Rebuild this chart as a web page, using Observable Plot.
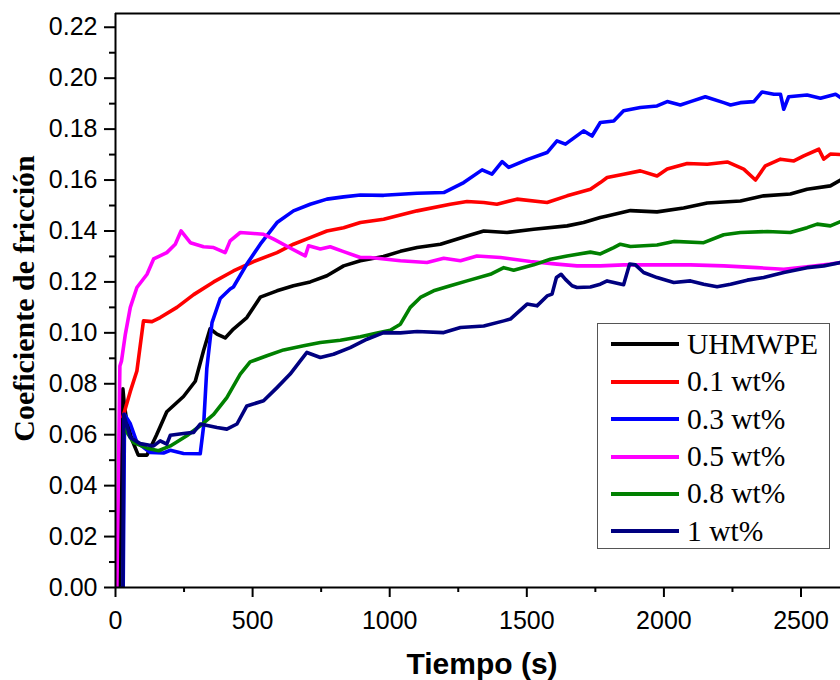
<!DOCTYPE html>
<html>
<head>
<meta charset="utf-8">
<script src="https://cdn.jsdelivr.net/npm/d3@7"></script>
<script src="https://cdn.jsdelivr.net/npm/@observablehq/plot@0.6"></script>
<style>
  html, body { margin: 0; padding: 0; background: #fff; }
  #wrap { position: relative; width: 840px; height: 680px; overflow: hidden; }
  #legend { position: absolute; left: 597px; top: 323px; width: 231px; height: 224px;
            border: 1.5px solid #555; background: #fff; box-sizing: content-box; }
  .row { position: absolute; left: 0; height: 37px; line-height: 37px; width: 100%;
         font-family: "Liberation Serif", "Times New Roman", serif; font-size: 29.5px; color: #000; white-space: nowrap; }
  .swatch { position: absolute; left: 13px; width: 68px; height: 4px; top: 16.5px; }
  .lbl { position: absolute; left: 89px; top: 0; }
</style>
</head>
<body>
<div id="wrap"></div>
<script>
// ---- Data ----
const seriesNames = ["UHMWPE", "0.1 wt%", "0.3 wt%", "0.5 wt%", "0.8 wt%", "1 wt%"];
const seriesColors = ["#000000", "#ff0000", "#0000ff", "#ff00ff", "#008000", "#000080"];

const xTicks = [0, 500, 1000, 1500, 2000, 2500];
const xMinorTicks = [250, 750, 1250, 1750, 2250];
const yTicks = [0, 0.02, 0.04, 0.06, 0.08, 0.10, 0.12, 0.14, 0.16, 0.18, 0.20, 0.22];
const yMinorTicks = [0.01, 0.03, 0.05, 0.07, 0.09, 0.11, 0.13, 0.15, 0.17, 0.19, 0.21];
const xDomain = [0, 2644];
const yDomain = [0, 0.2254];

const uhmwpe = [[8,0],[15,0],[27,0.078],[32,0.072],[40,0.066],[60,0.058],[83,0.052],[115,0.052],[150,0.060],[187,0.069],[248,0.075],[291,0.081],[321,0.093],[345,0.1016],[370,0.0995],[400,0.098],[430,0.1015],[479,0.106],[528,0.114],[589,0.1165],[649,0.1185],[710,0.120],[771,0.1224],[832,0.1263],[893,0.1283],[977,0.130],[1039,0.132],[1100,0.1335],[1185,0.1348],[1282,0.138],[1343,0.140],[1428,0.1394],[1525,0.1407],[1647,0.142],[1707,0.1433],[1768,0.1453],[1793,0.1459],[1878,0.148],[1975,0.1475],[2072,0.149],[2158,0.151],[2279,0.1518],[2364,0.1538],[2461,0.1545],[2522,0.1564],[2607,0.1577],[2644,0.160]];

const wt01 = [[27,0.067],[54,0.077],[78,0.085],[102,0.1047],[133,0.1044],[163,0.106],[224,0.110],[285,0.115],[358,0.120],[430,0.1243],[504,0.128],[589,0.1315],[649,0.1348],[710,0.1374],[771,0.140],[832,0.1413],[893,0.1433],[978,0.1446],[1100,0.1479],[1221,0.1505],[1282,0.1516],[1343,0.1512],[1391,0.1505],[1464,0.1525],[1574,0.1512],[1647,0.1538],[1732,0.1564],[1768,0.159],[1793,0.161],[1853,0.1623],[1914,0.1636],[1975,0.1616],[2012,0.1643],[2085,0.1665],[2158,0.1662],[2231,0.1671],[2291,0.1643],[2334,0.160],[2370,0.1656],[2425,0.1682],[2474,0.1675],[2510,0.1695],[2565,0.1721],[2583,0.1682],[2607,0.1702],[2644,0.170]];

const wt03 = [[28,0],[33,0.068],[54,0.0643],[78,0.057],[127,0.053],[175,0.0528],[200,0.0539],[248,0.0526],[309,0.0525],[321,0.063],[333,0.086],[352,0.104],[382,0.1135],[418,0.1172],[430,0.118],[479,0.127],[528,0.1348],[589,0.1433],[649,0.1479],[710,0.1505],[771,0.1525],[832,0.1534],[893,0.1541],[978,0.154],[1100,0.1548],[1197,0.1551],[1270,0.159],[1337,0.164],[1373,0.1623],[1410,0.1672],[1434,0.165],[1501,0.168],[1574,0.1708],[1610,0.1754],[1641,0.1741],[1707,0.1793],[1738,0.1773],[1768,0.1826],[1817,0.1832],[1853,0.1872],[1914,0.1885],[1975,0.1891],[2012,0.1908],[2060,0.1895],[2097,0.1908],[2151,0.1927],[2218,0.1904],[2243,0.1895],[2279,0.1904],[2328,0.1908],[2358,0.1946],[2401,0.1937],[2425,0.1937],[2437,0.1878],[2455,0.1927],[2522,0.1934],[2571,0.1921],[2626,0.1937],[2644,0.1924]];

const wt05 = [[5,0],[16,0.087],[22,0.089],[36,0.0995],[54,0.110],[78,0.1178],[115,0.123],[139,0.129],[187,0.1315],[218,0.1348],[239,0.140],[273,0.1354],[321,0.1338],[358,0.1335],[400,0.1315],[418,0.1361],[455,0.1394],[504,0.139],[540,0.1387],[577,0.1368],[637,0.1333],[692,0.1302],[704,0.1342],[747,0.1329],[783,0.1338],[832,0.1319],[893,0.1296],[929,0.1296],[1039,0.1283],[1136,0.1276],[1197,0.1293],[1258,0.1283],[1318,0.1302],[1404,0.1296],[1513,0.128],[1610,0.127],[1683,0.1263],[1768,0.1263],[1853,0.1267],[1975,0.1267],[2097,0.1267],[2218,0.1263],[2340,0.1256],[2437,0.125],[2522,0.1259],[2607,0.127],[2644,0.1276]];

const wt08 = [[35,0.062],[66,0.0569],[115,0.0547],[157,0.0537],[200,0.0556],[260,0.0596],[309,0.0635],[358,0.068],[406,0.0746],[455,0.0838],[491,0.0886],[552,0.091],[613,0.0933],[686,0.0949],[747,0.0962],[820,0.0971],[893,0.0985],[954,0.0999],[1002,0.101],[1039,0.1034],[1075,0.110],[1112,0.1139],[1160,0.1165],[1221,0.1185],[1282,0.1204],[1367,0.123],[1416,0.1256],[1452,0.1246],[1525,0.1267],[1586,0.1289],[1647,0.1302],[1732,0.1317],[1768,0.131],[1817,0.1335],[1841,0.1348],[1878,0.1339],[1975,0.1345],[2036,0.1359],[2145,0.1354],[2218,0.1385],[2279,0.1394],[2377,0.1398],[2461,0.1394],[2522,0.1413],[2559,0.1427],[2607,0.142],[2644,0.1437]];

const wt1 = [[22,0],[27,0],[30,0.068],[54,0.0589],[90,0.0565],[139,0.0556],[163,0.0576],[187,0.0563],[200,0.0598],[248,0.0605],[285,0.0609],[309,0.0642],[370,0.0628],[406,0.0622],[443,0.0642],[479,0.0713],[540,0.0733],[589,0.0785],[637,0.0838],[674,0.089],[698,0.0923],[747,0.0903],[795,0.0916],[856,0.0942],[917,0.0975],[978,0.1001],[1039,0.100],[1100,0.1005],[1197,0.1001],[1258,0.1021],[1343,0.1027],[1416,0.1047],[1440,0.1054],[1501,0.1113],[1537,0.1106],[1574,0.1145],[1592,0.1152],[1608,0.1217],[1625,0.123],[1641,0.121],[1665,0.1185],[1683,0.1178],[1732,0.118],[1768,0.1191],[1793,0.1204],[1853,0.1189],[1875,0.127],[1896,0.1267],[1926,0.1237],[1975,0.1217],[2036,0.1198],[2097,0.1204],[2145,0.1191],[2194,0.1181],[2243,0.1191],[2304,0.1207],[2364,0.1217],[2437,0.1237],[2522,0.1256],[2583,0.1263],[2644,0.1276]];

const seriesData = [uhmwpe, wt01, wt03, wt05, wt08, wt1];

// ---- Chart ----
const lineMarks = seriesData.map((data, i) =>
  Plot.line(data, {x: d => d[0], y: d => d[1], stroke: seriesColors[i], strokeWidth: 3.6,
                   strokeLinejoin: "round", strokeLinecap: "round", clip: true}));

const chart = Plot.plot({
  width: 840,
  height: 680,
  marginLeft: 115,
  marginRight: 0,
  marginTop: 13,
  marginBottom: 93,
  style: {fontFamily: "'Liberation Sans', Arial, sans-serif", fontSize: "25px", background: "#fff", color: "#000", overflow: "visible"},
  x: {domain: xDomain, axis: null},
  y: {domain: yDomain, axis: null},
  marks: [
    ...lineMarks,
    Plot.ruleX([xDomain[0]], {stroke: "#000", strokeWidth: 2}),
    Plot.ruleY([yDomain[0]], {stroke: "#000", strokeWidth: 2}),
    Plot.ruleY([yDomain[1]], {stroke: "#000", strokeWidth: 2}),
    Plot.axisY(yTicks, {tickSize: 11, tickPadding: 7, tickFormat: d => d.toFixed(2), strokeWidth: 2, fontSize: 25, label: null, fill: "#000"}),
    Plot.axisY(yMinorTicks, {tickSize: 6, tickFormat: () => "", strokeWidth: 2, label: null}),
    Plot.axisX(xTicks, {tickSize: 10, tickPadding: 14, tickFormat: d => String(d), strokeWidth: 2, fontSize: 25, label: null, fill: "#000"}),
    Plot.axisX(xMinorTicks, {tickSize: 5, tickFormat: () => "", strokeWidth: 2, label: null}),
    Plot.text(["Tiempo (s)"], {frameAnchor: "bottom", dy: 86, dx: 4, lineAnchor: "bottom", fontSize: 30, fontWeight: "bold", fill: "#000"}),
    Plot.text(["Coeficiente de fricción"], {frameAnchor: "left", rotate: -90, dx: -82, dy: -2, lineAnchor: "bottom", textAnchor: "middle",
      fontSize: 30, fontWeight: "bold", fontFamily: "'Liberation Serif', 'Times New Roman', serif", fill: "#000"})
  ]
});

const wrap = document.getElementById("wrap");
wrap.appendChild(chart);

// Legend (HTML overlay inside the plot area)
const legend = document.createElement("div");
legend.id = "legend";
seriesNames.forEach((name, i) => {
  const row = document.createElement("div");
  row.className = "row";
  row.style.top = (20.3 + i * 37.4 - 18.5) + "px";
  const sw = document.createElement("div");
  sw.className = "swatch";
  sw.style.background = seriesColors[i];
  const lbl = document.createElement("span");
  lbl.className = "lbl";
  lbl.textContent = name;
  row.appendChild(sw);
  row.appendChild(lbl);
  legend.appendChild(row);
});
wrap.appendChild(legend);
</script>
</body>
</html>
